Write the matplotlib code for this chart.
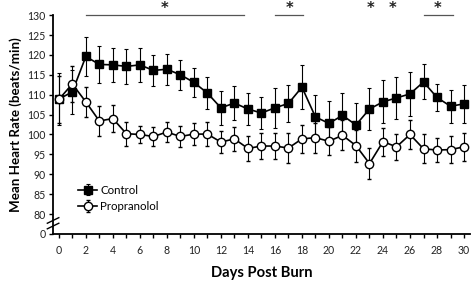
import numpy as np
import matplotlib.pyplot as plt

plt.rcParams['font.family'] = ['Lato', 'DejaVu Sans']

days = np.arange(0, 31)
control = [108.9, 110.7, 119.6, 117.6, 117.5, 117.1, 117.5, 116.1, 116.4, 115.0,
           113.1, 110.4, 106.7, 107.9, 106.4, 105.4, 106.7, 107.8, 111.9, 104.4,
           102.8, 104.8, 102.4, 106.4, 108.2, 109.2, 110.2, 113.2, 109.3, 107.1, 107.7]
control_err = [6.5, 5.5, 4.8, 4.7, 4.3, 4.5, 4.3, 3.9, 3.9, 3.8,
               3.6, 4.1, 4.3, 4.2, 4.0, 4.1, 5.1, 4.6, 5.6, 5.5,
               5.5, 5.7, 5.5, 5.2, 5.4, 5.2, 5.5, 4.4, 3.4, 4.2, 4.8]
prop = [108.8, 112.7, 108.2, 103.4, 104.0, 100.2, 100.0, 99.5, 100.6, 99.5,
        100.1, 100.1, 98.1, 98.9, 96.5, 97.1, 97.1, 96.6, 98.9, 99.2,
        98.3, 99.8, 97.2, 92.7, 98.2, 96.9, 100.0, 96.4, 96.1, 96.2, 96.9]
prop_err = [6.0, 4.5, 3.7, 3.8, 3.3, 3.0, 2.1, 2.3, 2.6, 2.7,
            2.8, 3.1, 2.8, 3.0, 3.1, 3.3, 3.2, 3.7, 3.5, 3.8,
            3.5, 3.8, 4.0, 3.9, 3.5, 3.3, 3.7, 3.6, 3.1, 3.3, 3.5]

# Signifikanz: (von, bis) Balken und Sternchen-Positionen
sig_bars = [(2, 13.7), (16, 18.1), (27, 29.2)]
sig_stars = [7.85, 17.05, 23.05, 24.7, 28.05]

y_ticks = [75, 80, 85, 90, 95, 100, 105, 110, 115, 120, 125, 130]
y_labels = ['0', '80', '85', '90', '95', '100', '105', '110', '115', '120', '125', '130']

fig = plt.figure(figsize=(4.72, 2.85), dpi=100)
ax = fig.add_axes([0.112, 0.179, 0.884, 0.768])

ax.errorbar(days, control, yerr=control_err, fmt='-s', color='black', mfc='black',
            mec='black', ms=5.5, lw=1.2, elinewidth=0.8, capsize=1.5, capthick=0.8,
            label='Control', zorder=3)
ax.errorbar(days, prop, yerr=prop_err, fmt='-o', color='black', mfc='white',
            mec='black', ms=6, mew=1.0, lw=1.2, elinewidth=0.8, capsize=1.5, capthick=0.8,
            label='Propranolol', zorder=4)

ax.set_xlim(-0.44, 30.45)
ax.set_ylim(75, 130)
ax.set_xticks(range(0, 31, 2))
ax.set_xticks(range(0, 31), minor=True)
ax.set_yticks(y_ticks)
ax.set_yticklabels(y_labels)
ax.tick_params(axis='both', labelsize=7.6, direction='out', length=3, width=1.0, pad=2,
               labelcolor='#222222')
ax.tick_params(axis='x', which='minor', length=3, width=1.0)
ax.tick_params(axis='x', pad=5)

for s in ['top', 'right']:
    ax.spines[s].set_visible(False)
for s in ['left', 'bottom']:
    ax.spines[s].set_linewidth(1.3)

# Achsenbruch
for yb in [77.0, 78.4]:
    ax.plot([-0.85, 0.0], [yb - 0.7, yb + 0.7], color='black', lw=1.0, clip_on=False, zorder=5)

for a, b in sig_bars:
    ax.plot([a, b], [130, 130], color='#555555', lw=0.9, clip_on=False)
for x in sig_stars:
    ax.text(x, 131.6, '*', ha='center', va='center', fontsize=10.5, fontweight='bold',
            family='DejaVu Sans', color='#222222', clip_on=False)

ax.set_xlabel('Days Post Burn', fontsize=10.6, fontweight='bold', labelpad=7)
ax.set_ylabel('Mean Heart Rate (beats/min)', fontsize=9.6, fontweight='bold', labelpad=4)

ax.legend(loc='lower left', bbox_to_anchor=(0.05, 0.08), frameon=False, fontsize=8.3,
          handlelength=1.6, handletextpad=0.3, labelspacing=0.45, borderaxespad=0)

fig.savefig('out.png', dpi=100)
